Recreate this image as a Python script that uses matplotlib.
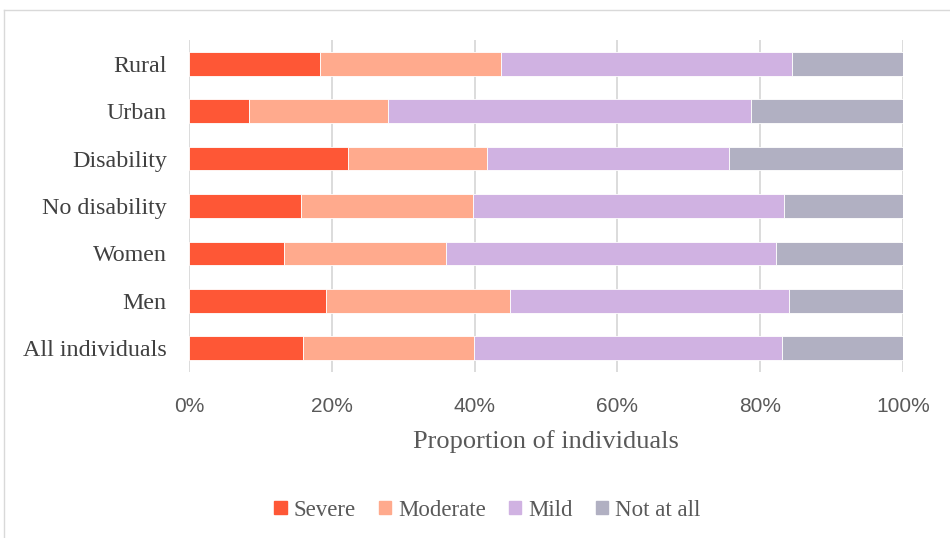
import numpy as np
import matplotlib
matplotlib.use("Agg")
import matplotlib.pyplot as plt
from matplotlib.lines import Line2D
from matplotlib.ticker import PercentFormatter

# data (percent of individuals)
groups = ["All individuals", "Men", "Women", "No disability", "Disability", "Urban", "Rural"]
severe = [16.0, 19.2, 13.3, 15.7, 22.2, 8.4, 18.4]
moderate = [23.9, 25.8, 22.7, 24.1, 19.6, 19.4, 25.3]
mild = [43.2, 39.0, 46.2, 43.5, 33.8, 50.9, 40.7]
not_at_all = [16.9, 16.0, 17.8, 16.7, 24.4, 21.3, 15.6]

levels = ["Severe", "Moderate", "Mild", "Not at all"]
colors = ["#FE5736", "#FFAA8D", "#D0B2E2", "#B1B0C2"]

serif = ["Liberation Serif", "DejaVu Serif"]
sans = ["Liberation Sans Narrow", "Liberation Sans", "DejaVu Sans"]

fig = plt.figure(figsize=(9.5, 5.38), dpi=100)
ax = fig.add_axes([0.199, 0.3086, 0.7515, 0.6171])

y = np.arange(len(groups))
left = np.zeros(len(groups))
for name, vals, col in zip(levels, [severe, moderate, mild, not_at_all], colors):
    ax.barh(y, vals, left=left, height=0.5, color=col, edgecolor="white",
            linewidth=0.6, label=name, zorder=3)
    left += np.array(vals)

ax.set_xlim(0, 100)
ax.set_ylim(-0.5, len(groups) - 0.5)
ax.set_xticks(np.arange(0, 101, 20))
ax.xaxis.set_major_formatter(PercentFormatter(decimals=0))
ax.set_yticks(y)
ax.set_yticklabels(groups, family=serif, fontsize=17.3, color="#404040")
for lab in ax.get_xticklabels():
    lab.set_family(sans)
    lab.set_fontsize(15)
    lab.set_color("#595959")
ax.tick_params(axis="both", length=0)
ax.tick_params(axis="x", pad=18)
ax.tick_params(axis="y", pad=16)
ax.grid(axis="x", color="#D9D9D9", linewidth=1.3, zorder=0)
for s in ax.spines.values():
    s.set_visible(False)

ax.set_xlabel("Proportion of individuals", family=serif, fontsize=19,
              color="#595959", labelpad=10)

handles = [plt.Rectangle((0, 0), 1, 1, color=c) for c in colors]
fig.legend(handles, levels, loc="center", bbox_to_anchor=(0.513, 0.052), ncol=4,
           frameon=False, prop={"family": serif, "size": 16.5}, labelcolor="#595959",
           handlelength=0.55, handleheight=0.55, handletextpad=0.3, columnspacing=1.0)

# chart area border (cut off at right and bottom in the reference)
fig.add_artist(Line2D([4 / 950, 1], [1 - 10 / 538, 1 - 10 / 538], color="#D9D9D9", lw=1))
fig.add_artist(Line2D([4 / 950, 4 / 950], [0, 1 - 10 / 538], color="#D9D9D9", lw=1))

fig.savefig("out.png", dpi=100, facecolor="white")
